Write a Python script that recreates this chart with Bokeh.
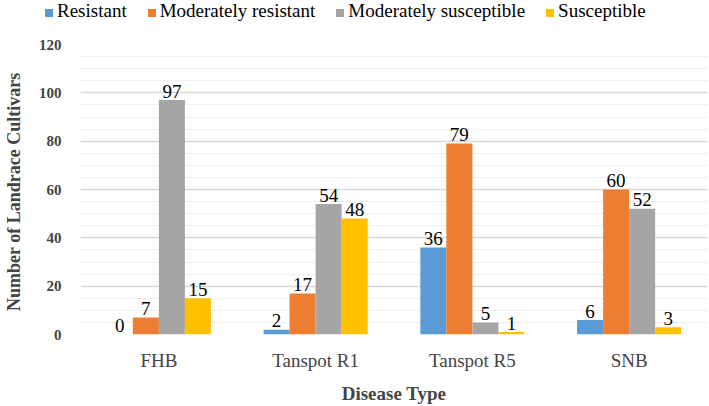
from bokeh.plotting import figure
from bokeh.layouts import column
from bokeh.models import FactorRange, ColumnDataSource, Range1d, FixedTicker, Div
from bokeh.transform import dodge
from bokeh.core.properties import value
from bokeh.embed import file_html
from bokeh.resources import INLINE

categories = ["FHB", "Tanspot R1", "Tanspot R5", "SNB"]
series_names = ["Resistant", "Moderately resistant", "Moderately susceptible", "Susceptible"]
resistant = [0, 2, 36, 6]
mod_resistant = [7, 17, 79, 60]
mod_susceptible = [97, 54, 5, 52]
susceptible = [15, 48, 1, 3]
colors = ["#5B9BD5", "#ED7D31", "#A5A5A5", "#FFC000"]
y_major_ticks = [0, 20, 40, 60, 80, 100, 120]
y_minor_ticks = [5, 10, 15, 25, 30, 35, 45, 50, 55, 65, 70, 75, 85, 90, 95, 105, 110, 115]

FONT = "'Liberation Serif', 'Times New Roman', serif"

data = {"cat": categories, "s0": resistant, "s1": mod_resistant, "s2": mod_susceptible, "s3": susceptible}
for i in range(4):
    data[f"t{i}"] = [str(v) for v in data[f"s{i}"]]
src = ColumnDataSource(data)

# ---- legend strip on top (HTML legend built from names/colours) ----
parts = []
for name, c in zip(series_names, colors):
    parts.append(
        f'<span style="display:inline-block;width:8px;height:8px;background:{c};'
        f'margin-right:4px;vertical-align:baseline"></span>'
        f'<span style="margin-right:21px">{name}</span>')
legend_html = (f'<div style="font-family:{FONT};font-size:19px;line-height:22px;color:#000;'
               f'white-space:nowrap;padding-left:45px;margin:0">' + "".join(parts) + "</div>")
top = Div(text=legend_html, width=709, height=36, margin=0)

# ---- main chart ----
p = figure(x_range=FactorRange(*categories), y_range=Range1d(0, 120),
           width=709, height=370, output_backend="svg", toolbar_location=None,
           min_border_left=77, min_border_right=2, min_border_top=8, min_border_bottom=0)
p.x_range.range_padding = 0
p.outline_line_color = None
p.background_fill_color = "white"

bw = 0.166
offsets = [-1.5 * bw, -0.5 * bw, 0.5 * bw, 1.5 * bw]
for i in range(4):
    p.vbar(x=dodge("cat", offsets[i], range=p.x_range), top=f"s{i}", width=bw,
           source=src, color=colors[i], line_color=None)
    p.text(x=dodge("cat", offsets[i], range=p.x_range), y=f"s{i}", text=f"t{i}", source=src,
           text_align="center", text_baseline="alphabetic", y_offset=-9,
           text_font=value(FONT), text_font_size="19px", text_color="#000000")

p.yaxis.ticker = FixedTicker(ticks=y_major_ticks, minor_ticks=y_minor_ticks)
p.ygrid.grid_line_color = "#D9D9D9"
p.ygrid.grid_line_width = 1.3
p.ygrid.minor_grid_line_color = "#EEEEEE"
p.ygrid.minor_grid_line_width = 1
p.xgrid.grid_line_color = None

for ax in (p.xaxis, p.yaxis):
    ax.axis_line_color = None
    ax.major_tick_line_color = None
    ax.minor_tick_line_color = None

p.yaxis.major_label_text_font = FONT
p.yaxis.major_label_text_font_style = "bold"
p.yaxis.major_label_text_font_size = "15px"
p.yaxis.major_label_standoff = 13
p.yaxis.axis_label = "Number of  Landrace Cultivars"
p.yaxis.axis_label_text_font = FONT
p.yaxis.axis_label_text_font_style = "bold"
p.yaxis.axis_label_text_font_size = "18px"
p.yaxis.axis_label_standoff = 12

p.xaxis.major_label_text_font = FONT
p.xaxis.major_label_text_font_size = "19px"
p.xaxis.major_label_standoff = 9
p.xaxis.axis_label = "Disease Type"
p.xaxis.axis_label_text_font = FONT
p.xaxis.axis_label_text_font_style = "bold"
p.xaxis.axis_label_text_font_size = "19px"
p.xaxis.axis_label_standoff = 9

open("out.html", "w").write(file_html(column(top, p, spacing=0), INLINE))
